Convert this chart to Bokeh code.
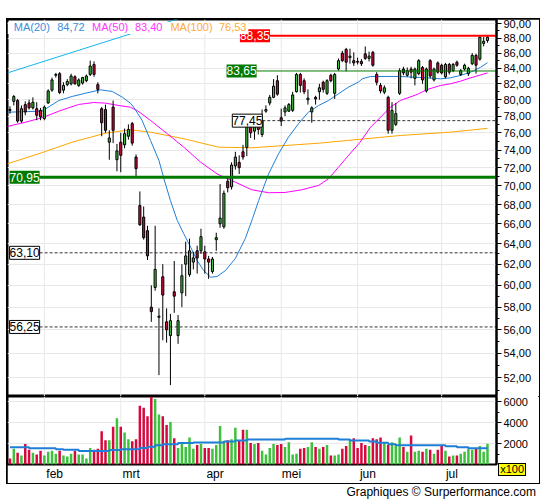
from bokeh.plotting import figure
from bokeh.models import (Range1d, FixedTicker, CustomJSTickFormatter, Label, BoxAnnotation,
                          ColumnDataSource, Div, Span)
from bokeh.layouts import column
from bokeh.embed import file_html
from bokeh.resources import INLINE

# ---------------- data ----------------
opens = [78.8, 79.8, 79.9, 77.4, 79.4, 79.6, 79.0, 78.9, 78.7, 77.7,
         79.6, 81.2, 83.1, 83.3, 81.2, 81.9, 82.0, 82.9, 81.8, 82.1,
         82.4, 83.2, 84.5, 81.9, 78.9, 78.8, 74.9, 79.1, 72.9, 74.9,
         74.6, 75.6, 77.1, 73.2, 67.9, 66.7, 65.3, 58.0, 59.8, 57.1,
         60.8, 56.7, 55.5, 59.4, 55.5, 59.3, 62.0, 61.0, 62.2, 63.3,
         63.3, 63.2, 62.5, 61.3, 64.4, 66.0, 65.7, 70.5, 69.9, 72.2,
         72.6, 73.8, 74.3, 76.7, 76.2, 77.0, 75.8, 78.6, 79.6, 80.3,
         82.4, 77.8, 78.5, 78.6, 78.7, 81.0, 83.2, 82.4, 80.0, 78.5,
         80.3, 81.0, 82.2, 80.8, 83.1, 80.8, 83.9, 86.0, 86.5, 85.4,
         85.0, 84.9, 84.9, 85.9, 85.3, 86.1, 83.2, 81.8, 80.95, 80.3,
         76.3, 77.0, 80.8, 83.9, 83.1, 83.9, 82.7, 83.3, 84.1, 81.1,
         85.0, 82.5, 84.7, 84.4, 82.9, 84.5, 83.7, 84.8, 83.2, 83.9,
         83.3, 84.6, 85.7, 85.2, 87.3, 87.7]
highs = [79.2, 80.6, 80.1, 79.3, 79.8, 80.0, 80.3, 79.7, 79.0, 79.3,
         81.3, 82.8, 83.4, 83.5, 82.2, 82.6, 83.3, 83.1, 82.7, 82.9,
         83.2, 85.0, 84.9, 82.2, 79.1, 79.4, 76.3, 79.9, 74.7, 76.0,
         76.5, 77.0, 77.3, 73.5, 69.4, 67.8, 65.8, 60.0, 65.8, 57.9,
         62.0, 57.9, 57.4, 62.3, 57.3, 62.0, 64.2, 64.5, 63.2, 63.8,
         65.5, 63.8, 62.8, 62.7, 65.1, 70.2, 69.5, 71.0, 72.6, 73.8,
         73.4, 74.6, 77.2, 77.0, 77.0, 77.4, 78.8, 79.3, 80.6, 82.6,
         83.1, 78.9, 79.3, 79.6, 81.0, 83.4, 83.4, 82.7, 81.3, 79.2,
         80.5, 82.0, 82.4, 82.6, 83.3, 83.4, 85.3, 86.3, 86.7, 86.6,
         86.1, 85.4, 85.2, 86.9, 86.2, 86.3, 83.5, 82.1, 81.8, 80.5,
         79.7, 79.6, 84.0, 84.2, 84.1, 84.2, 84.1, 85.2, 84.3, 84.1,
         85.2, 84.1, 84.9, 84.6, 84.7, 84.7, 84.7, 85.0, 83.9, 84.6,
         84.2, 86.0, 85.9, 88.35, 88.2, 88.35]
lows = [78.3, 79.3, 77.2, 77.2, 78.1, 78.8, 78.8, 77.5, 77.5, 77.5,
        79.5, 81.0, 82.8, 80.7, 80.8, 81.7, 81.8, 81.9, 81.6, 81.9,
        82.2, 83.0, 82.9, 80.8, 75.6, 76.0, 72.9, 74.8, 71.6, 71.5,
        74.2, 75.2, 74.5, 70.9, 65.8, 64.4, 62.4, 56.7, 59.5, 52.2,
        55.1, 54.9, 51.4, 57.5, 54.8, 58.0, 59.0, 60.8, 61.5, 61.1,
        63.0, 61.1, 60.6, 61.1, 63.3, 65.6, 65.5, 69.3, 69.6, 71.8,
        71.3, 72.9, 73.3, 75.4, 75.2, 75.8, 75.5, 78.4, 79.3, 80.2,
        80.5, 76.8, 78.0, 78.5, 78.5, 80.9, 80.9, 80.7, 79.4, 77.2,
        79.4, 80.0, 80.9, 80.6, 82.2, 80.1, 83.7, 84.8, 83.6, 84.6,
        84.3, 84.5, 84.3, 85.1, 84.9, 84.2, 81.8, 80.8, 80.7, 75.9,
        75.9, 76.8, 80.6, 83.1, 82.9, 82.7, 81.8, 83.1, 82.0, 80.9,
        82.7, 82.3, 83.3, 83.2, 82.7, 83.2, 83.5, 84.2, 83.0, 83.7,
        83.0, 84.4, 83.3, 85.0, 86.9, 87.4]
closes = [78.7, 80.4, 77.4, 78.9, 78.5, 79.0, 79.7, 78.1, 77.9, 79.1,
          81.1, 82.5, 83.2, 80.9, 81.8, 82.3, 83.0, 82.0, 82.5, 82.8,
          83.0, 84.3, 83.2, 81.3, 77.2, 76.3, 75.4, 76.3, 73.9, 73.4,
          75.9, 76.4, 74.8, 71.9, 65.9, 64.6, 62.8, 57.6, 61.5, 57.2,
          59.1, 56.0, 56.8, 59.0, 56.8, 60.9, 62.8, 63.3, 62.6, 62.6,
          64.7, 62.5, 62.2, 62.5, 64.6, 66.6, 69.2, 69.8, 72.3, 73.2,
          72.0, 73.2, 76.7, 76.0, 76.7, 76.4, 77.5, 78.8, 80.3, 81.7,
          80.7, 77.4, 79.0, 79.4, 80.6, 83.2, 81.8, 81.0, 80.2, 79.0,
          80.1, 81.5, 81.3, 82.4, 82.4, 83.2, 85.0, 85.0, 84.8, 85.6,
          84.7, 84.8, 84.6, 85.3, 85.6, 84.4, 82.2, 81.1, 81.5, 76.3,
          78.7, 78.3, 83.7, 83.4, 83.7, 83.5, 83.9, 85.0, 82.5, 83.9,
          83.0, 83.9, 83.5, 83.4, 84.5, 83.5, 84.5, 84.4, 83.7, 84.4,
          84.0, 85.7, 84.4, 88.15, 87.6, 88.15]
volumes = [580, 1500, 1130, 860, 1960, 1410, 1130, 950, 1320, 860,
           1220, 1320, 1040, 1320, 860, 765, 1040, 1320, 950, 950,
           580, 1590, 1410, 1500, 3180, 2330, 2330, 3610, 4440, 3610,
           3060, 2420, 2230, 2420, 5630, 5450, 4620, 6500, 6270, 4800,
           4620, 3790, 4070, 2510, 1590, 2140, 1680, 2600, 1500, 1870,
           1960, 1590, 1590, 1500, 1870, 3700, 2230, 2330, 2420, 3520,
           2330, 3340, 3340, 2050, 1960, 2050, 1320, 950, 1590, 1960,
           1870, 1960, 1680, 2140, 950, 1040, 1500, 1590, 1680, 2140,
           1680, 1500, 1680, 1870, 860, 860, 950, 1500, 1770, 2420,
           2510, 1590, 2050, 1870, 1770, 2510, 2420, 2600, 2140, 1870,
           2140, 1960, 2600, 1680, 1220, 2780, 1220, 1320, 1220, 1500,
           1410, 1040, 1410, 1770, 1320, 765, 860, 860, 1040, 1220,
           1500, 1410, 1500, 1770, 1220, 2000]

month_names = ["feb", "mrt", "apr", "mei", "jun", "jul"]
month_start = [9, 29, 51, 71, 91, 113]

ma20_x = [-0.7, 8.4, 12.8, 16.3, 19.8, 23.7, 26.8, 29.4, 31.5, 32.4, 34.6, 36.8, 39.0, 40.3,
          42.0, 43.8, 45.5, 47.3, 49.0, 50.7, 52.5, 54.2, 56.4, 59.0, 61.6, 63.5, 65.1, 67.7,
          70.3, 72.9, 75.5, 78.1, 80.8, 83.4, 86.0, 88.6, 91.2, 92.2, 94.4, 102.2, 105.7,
          109.2, 112.7, 115.3, 117.9, 120.6, 123.2, 125]
ma20_y = [78.47, 78.60, 79.91, 80.41, 80.82, 81.24, 81.03, 80.32, 79.58, 79.08, 77.47, 75.10,
          72.81, 70.78, 68.43, 66.34, 64.99, 63.65, 62.35, 61.39, 60.76, 60.82, 61.39, 62.55,
          64.52, 66.55, 68.43, 71.32, 73.57, 75.49, 77.07, 78.47, 79.29, 79.91, 80.75, 81.58,
          82.21, 82.64, 82.94, 82.94, 82.85, 82.77, 82.64, 82.77, 83.07, 83.49, 84.14, 84.72]
ma50_x = [-0.7, 4.1, 8.4, 12.8, 18.0, 21.9, 25.0, 28.5, 31.5, 33.3, 36.8, 41.2, 45.5, 49.9,
          54.2, 56.4, 59.0, 63.3, 67.7, 72.0, 76.4, 80.8, 83.4, 86.0, 88.6, 91.5, 94.4, 97.0,
          99.6, 102.2, 106.6, 109.2, 112.7, 115.3, 117.9, 120.6, 125]
ma50_y = [76.75, 77.27, 77.80, 78.60, 79.42, 79.66, 79.58, 79.29, 79.08, 78.68, 77.47, 75.89,
          74.33, 72.62, 71.32, 70.89, 70.40, 69.58, 69.26, 69.29, 69.58, 70.05, 70.78, 72.06,
          73.38, 74.82, 76.67, 77.87, 79.08, 79.91, 80.66, 81.28, 81.79, 82.01, 82.33, 82.77,
          83.40]
ma100_x = [-0.7, 7.5, 16.3, 25.0, 31.5, 36.8, 45.5, 54.6, 63.3, 72.0, 80.8, 91.5, 102.2, 115.3, 125]
ma100_y = [72.44, 73.57, 74.91, 75.96, 76.36, 76.08, 75.31, 74.33, 74.26, 74.52, 74.79, 75.24,
           75.69, 76.08, 76.53]
trend_x = [-0.6, 50]
trend_y = [83.41, 91.73]

vol_ma_x = [0, 5, 12, 14, 18, 26, 29, 34, 36, 38, 40, 44, 48, 56, 59, 62, 72, 86, 89, 94, 96,
            99, 101, 114, 117, 120, 125]
vol_ma_v = [1650, 1560, 1470, 1410, 1285, 1380, 1470, 1590, 1710, 1840, 1930, 2050, 2110, 2200,
            2295, 2390, 2480, 2390, 2295, 2200, 2080, 1930, 1835, 1745, 1650, 1560, 1560]

level_values = [88.35, 83.65, 77.45, 70.95, 63.10, 56.25]
level_texts = ["88,35", "83,65", "77,45", "70,95", "63,10", "56,25"]

legend_texts = ["MA(20)", "84,72", "MA(50)", "83,40", "MA(100)", "76,53"]

# ---------------- styling ----------------
FONT = "Liberation Sans"
RED = "#d6083d"
GREEN = "#3cc13c"
GRID = "#e8e8e8"
BLUE = "#1f7fd8"
MAGENTA = "#ff00ff"
ORANGE = "#ffa500"
CYAN = "#14b4f0"

level_styles = [
    dict(x=60.2, line="#ff0000", w=2, dash="solid", tc="white", bg="#ff0000", border=None),
    dict(x=56.7, line="#007a00", w=1, dash="solid", tc="white", bg="#007a00", border=None),
    dict(x=58.2, line="#333333", w=1, dash="3 2", tc="black", bg="white", border="black"),
    dict(x=-0.1, line="#007a00", w=3, dash="solid", tc="white", bg="#007a00", border=None),
    dict(x=-0.1, line="#333333", w=1, dash="3 2", tc="black", bg="white", border="black"),
    dict(x=-0.1, line="#333333", w=1, dash="3 2", tc="black", bg="white", border="black"),
]
legend_x = [1.0, 12.35, 21.5, 32.7, 42.0, 54.7]
legend_colors = ["#3c8ce0", "#3c8ce0", "#ff33ff", "#ff33ff", "#ffaa33", "#ffaa33"]
LEGEND_Y = 89.49

n = len(closes)
idx = list(range(n))
colors = [GREEN if c >= o else RED for o, c in zip(opens, closes)]
src = ColumnDataSource(dict(
    x=idx, high=highs, low=lows,
    top=[max(o, c) for o, c in zip(opens, closes)],
    bottom=[min(o, c) for o, c in zip(opens, closes)],
    color=colors, vol=volumes))

xr = Range1d(-0.65, 127.36)

# ---------------- price panel ----------------
p1 = figure(width=532, height=377, x_range=xr, y_range=Range1d(50.50, 90.60),
            y_axis_type="log", y_axis_location="right", x_axis_location=None,
            toolbar_location=None, output_backend="svg", title=None,
            min_border_left=0, min_border_right=43, min_border_top=0, min_border_bottom=0)
p1.outline_line_color = "black"
p1.outline_line_width = 2
p1.background_fill_color = "white"
p1.border_fill_color = "white"

price_ticker = FixedTicker(ticks=list(range(52, 91, 2)), minor_ticks=list(range(51, 91, 2)))
ax = p1.yaxis[0]
ax.ticker = price_ticker
ax.formatter = CustomJSTickFormatter(code="return tick.toFixed(2).replace('.', ',');")
ax.major_tick_out = 5
ax.major_tick_in = 0
ax.minor_tick_out = 3
ax.minor_tick_in = 0
ax.axis_line_width = 2
ax.major_label_standoff = 2
ax.major_label_text_font = FONT
ax.major_label_text_font_size = "11px"
ax.major_label_text_color = "black"
p1.ygrid.grid_line_color = GRID
p1.xgrid.grid_line_color = None
for m in month_start:
    p1.add_layout(Span(location=m, dimension="height", line_color=GRID, line_width=1, level="underlay"))

p1.line(trend_x, trend_y, line_color=CYAN, line_width=1)
p1.line(ma100_x, ma100_y, line_color=ORANGE, line_width=1)
p1.line(ma50_x, ma50_y, line_color=MAGENTA, line_width=1)
p1.line(ma20_x, ma20_y, line_color=BLUE, line_width=1)

p1.segment(x0="x", y0="high", x1="x", y1="low", source=src, line_color="black", line_width=1)
p1.vbar(x="x", width=0.55, top="top", bottom="bottom", fill_color="color",
        line_color="black", line_width=1, source=src)

for val, txt, st in zip(level_values, level_texts, level_styles):
    p1.ray(x=[st["x"]], y=[val], length=0, angle=0, line_color=st["line"],
           line_width=st["w"], line_dash=st["dash"])
    p1.add_layout(Label(x=st["x"], y=val, text=txt, text_font=FONT, text_font_size="12px",
                        text_color=st["tc"], text_baseline="middle", text_align="left",
                        background_fill_color=st["bg"], border_line_color=st["border"],
                        border_line_width=1, padding=(0, 2)))

p1.add_layout(BoxAnnotation(left=-0.65, right=62.4, bottom=88.59, top=90.25,
                            fill_color="white", fill_alpha=1.0, line_color=None))
for t, xx, col in zip(legend_texts, legend_x, legend_colors):
    p1.add_layout(Label(x=xx, y=LEGEND_Y, text=t, text_font=FONT, text_font_size="11px",
                        text_color=col, text_baseline="middle", text_align="left"))

# ---------------- volume panel ----------------
p2 = figure(width=532, height=87, x_range=xr, y_range=Range1d(0, 6520),
            y_axis_location="right", toolbar_location=None, output_backend="svg", title=None,
            min_border_left=0, min_border_right=43, min_border_top=0, min_border_bottom=16)
p2.outline_line_color = "black"
p2.outline_line_width = 2
p2.background_fill_color = "white"
p2.border_fill_color = "white"

vol_ticker = FixedTicker(ticks=[2000, 4000, 6000], minor_ticks=[1000, 3000, 5000])
vax = p2.yaxis[0]
vax.ticker = vol_ticker
vax.major_tick_out = 5
vax.major_tick_in = 0
vax.minor_tick_out = 3
vax.minor_tick_in = 0
vax.axis_line_width = 2
vax.major_label_standoff = 2
vax.major_label_text_font = FONT
vax.major_label_text_font_size = "11px"
vax.major_label_text_color = "black"
p2.ygrid.grid_line_color = GRID
p2.xgrid.grid_line_color = None
for m in month_start:
    p2.add_layout(Span(location=m, dimension="height", line_color=GRID, line_width=1, level="underlay"))

label_pos = [m + 2.7 for m in month_start]
xax = p2.xaxis[0]
xax.ticker = FixedTicker(ticks=label_pos, minor_ticks=[])
xax.major_label_overrides = {pos: name for pos, name in zip(label_pos, month_names)}
xax.major_tick_out = 0
xax.major_tick_in = 0
xax.minor_tick_out = 0
xax.minor_tick_in = 0
xax.axis_line_color = None
xax.major_label_standoff = 2
xax.major_label_text_font = FONT
xax.major_label_text_font_size = "12px"
xax.major_label_text_color = "black"

p2.vbar(x="x", top="vol", bottom=0, width=0.65, fill_color="color", line_color=None, source=src)
p2.step(vol_ma_x, vol_ma_v, mode="after", line_color=BLUE, line_width=2)

charts = column(p1, p2, spacing=0, margin=(19, 0, 0, 7),
                styles={"outline": "2px solid black", "outline-offset": "-1px"})
footer_html = ('<div style="position:relative;height:0;overflow:visible;">'
               '<span style="position:absolute;right:10px;top:-21px;background:#ffff00;'
               'border:1px solid #000;font-size:11px;line-height:11px;padding:0 1px;'
               'white-space:nowrap;font-family:\'Liberation Sans\';color:#000;">x100</span></div>'
               'Graphiques \u00a9 Surperformance.com')
footer = Div(text=footer_html, width=532, height=16, margin=(0, 0, 0, 7),
             styles={"text-align": "right", "font-family": FONT, "font-size": "12px",
                     "color": "#000000", "padding-right": "3px", "overflow": "visible",
                     "padding-top": "1px"})
page = column(charts, footer, spacing=0)

open("out.html", "w").write(file_html(page, INLINE, title="chart"))
